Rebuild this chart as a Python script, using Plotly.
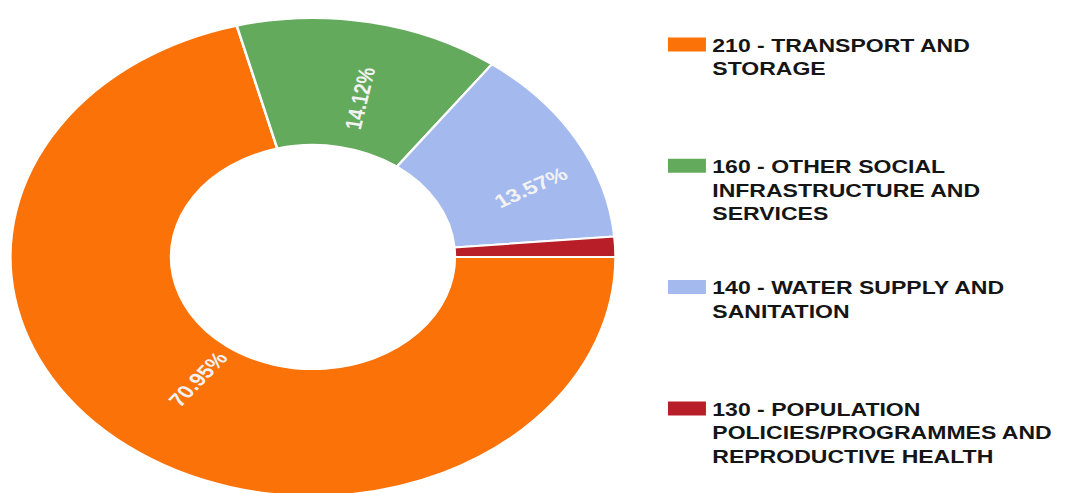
import math
import plotly.graph_objects as go

categories = [
    "210 - TRANSPORT AND<br>STORAGE",
    "160 - OTHER SOCIAL<br>INFRASTRUCTURE AND<br>SERVICES",
    "140 - WATER SUPPLY AND<br>SANITATION",
    "130 - POPULATION<br>POLICIES/PROGRAMMES AND<br>REPRODUCTIVE HEALTH",
]
shares = [70.95, 14.12, 13.57, 1.36]
slice_colors = ["#FA7208", "#63AA5C", "#A4B9EE", "#B81E28"]
show_label = [True, True, True, False]

# pad legend entries so that each entry occupies the same height
max_lines = 5
legend_names = []
for i, c in enumerate(categories):
    n = c.count("<br>") + 1
    pad = (max_lines - n) if i < len(categories) - 1 else 0
    legend_names.append(c + "<br>\u00a0" * pad)

SX = 1.266  # horizontal stretch of the reference image
W = round(1079 / SX)
H = 493

ROTATION = 90
HOLE = 0.469
dom_x = [0.0096, 0.5707]
dom_y = [0.0, 0.9696]

fig = go.Figure(
    go.Pie(
        labels=legend_names,
        values=shares,
        hole=HOLE,
        sort=False,
        direction="clockwise",
        rotation=ROTATION,
        marker=dict(colors=slice_colors, line=dict(color="white", width=2)),
        textinfo="none",
        domain=dict(x=dom_x, y=dom_y),
        hoverinfo="label+percent",
    )
)

# percentage labels, placed radially at each slice's mid angle
cx = (dom_x[0] + dom_x[1]) / 2 * W
cy = (dom_y[0] + dom_y[1]) / 2 * H
R = min((dom_x[1] - dom_x[0]) * W, (dom_y[1] - dom_y[0]) * H) / 2
r_lbl = 0.825 * R
total = sum(shares)
cum = 0.0
for v, show in zip(shares, show_label):
    mid = ROTATION + 360.0 * (cum + v / 2) / total
    cum += v
    if not show:
        continue
    th = math.radians(mid)
    px = cx + r_lbl * math.sin(th)
    py = cy + r_lbl * math.cos(th)
    m = mid % 360
    ang = m - 90 if m < 180 else m - 270
    fig.add_annotation(
        x=px / W, y=py / H, xref="paper", yref="paper",
        text="%.2f%%" % (100 * v / total),
        showarrow=False, textangle=ang,
        font=dict(family="Liberation Sans, Arial, sans-serif", size=18.5, color="#F2F2F2", weight="bold"),
    )

fig.update_layout(
    width=W,
    height=H,
    margin=dict(l=0, r=0, t=0, b=0),
    paper_bgcolor="white",
    plot_bgcolor="white",
    showlegend=True,
    legend=dict(
        x=0.6134,
        xanchor="left",
        y=0.953,
        yanchor="top",
        valign="top",
        font=dict(family="Liberation Sans, Arial, sans-serif", size=18.2, color="#151515", weight="bold"),
        bgcolor="rgba(0,0,0,0)",
    ),
)

post = (
    "document.body.style.margin='0';"
    "document.body.style.overflow='hidden';"
    "var d=document.getElementById('{plot_id}');"
    "d.style.transformOrigin='0 0';"
    "d.style.transform='translate(0px,3px) scaleX(%s)';"
    "function sw(){document.querySelectorAll('path.legendpie').forEach(function(p){p.setAttribute('d','M16,8H-16V-8H16Z');});}"
    "sw();d.on && d.on('plotly_afterplot', sw);"
) % SX

fig.write_html("out.html", post_script=post, config={"displayModeBar": False})
